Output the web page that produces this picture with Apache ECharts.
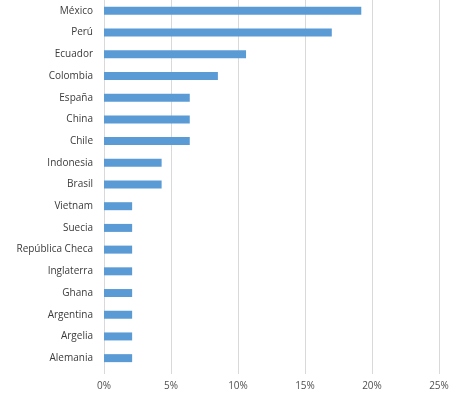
<!DOCTYPE html>
<html>
<head>
<meta charset="utf-8">
<script src="https://cdn.jsdelivr.net/npm/echarts@6/dist/echarts.min.js"></script>
<style>
  html, body { margin: 0; padding: 0; background: #fff; }
  #app { width: 454px; height: 393px; }
</style>
</head>
<body>
<div id="app"></div>
<script>
// categories top to bottom
const countries = [
  "México", "Perú", "Ecuador", "Colombia", "España", "China", "Chile",
  "Indonesia", "Brasil", "Vietnam", "Suecia", "República Checa",
  "Inglaterra", "Ghana", "Argentina", "Argelia", "Alemania"
];
// share in percent
const shares = [
  19.2, 17.0, 10.6, 8.5, 6.4, 6.4, 6.4,
  4.3, 4.3, 2.1, 2.1, 2.1,
  2.1, 2.1, 2.1, 2.1, 2.1
];
const xTicks = [0, 5, 10, 15, 20, 25];

const FONT = "Open Sans";
const GRID_COLOR = "#d9d9d9";

var chart = echarts.init(document.getElementById("app"));
chart.setOption({
  backgroundColor: "#fff",
  animation: false,
  grid: { left: 104, right: 15, top: -1, bottom: 24 },
  xAxis: {
    type: "value",
    min: xTicks[0],
    max: xTicks[xTicks.length - 1],
    interval: 5,
    axisLine: { show: false },
    axisTick: { show: true, length: 5, lineStyle: { color: GRID_COLOR } },
    splitLine: { show: true, lineStyle: { color: GRID_COLOR, width: 1 } },
    axisLabel: {
      formatter: v => v + "%",
      color: "#505050",
      fontFamily: FONT,
      fontSize: 10,
      margin: 12
    }
  },
  yAxis: {
    type: "category",
    inverse: true,
    data: countries,
    axisLine: { show: true, lineStyle: { color: GRID_COLOR } },
    axisTick: { show: false },
    axisLabel: {
      color: "#3a3a3a",
      fontFamily: FONT,
      fontSize: 10,
      margin: 11
    }
  },
  series: [{
    type: "bar",
    data: shares,
    barWidth: 8,
    itemStyle: { color: "#5b9bd5" }
  }]
});
</script>
</body>
</html>
